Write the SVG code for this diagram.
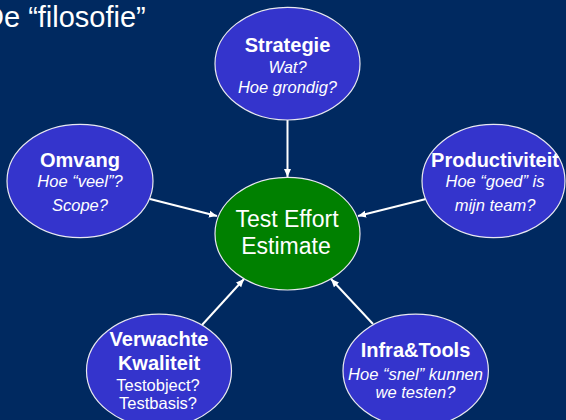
<svg xmlns="http://www.w3.org/2000/svg" width="566" height="420" viewBox="0 0 566 420">
<defs>
<style>
.bg{fill:#002960}
.node{fill:#3434CC;stroke:#E8E8F0;stroke-width:1.2}
.core{fill:#008000;stroke:#E8E8F0;stroke-width:1.2}
text{font-family:"Liberation Sans",Arial,sans-serif;fill:#FFFFFF;text-anchor:middle}
.b{font-weight:bold;font-size:20px}
.i{font-style:italic;font-size:16.5px}
.r{font-size:16.5px}
.c{font-size:23px}
.conn line{stroke:#FFFFFF;stroke-width:2;marker-end:url(#arr)}
</style>
<marker id="arr" markerUnits="userSpaceOnUse" markerWidth="9" markerHeight="8" refX="8" refY="4" orient="auto">
<path d="M0,0.5 L8,4 L0,7.5 z" fill="#FFFFFF"/>
</marker>
</defs>
<rect class="bg" x="0" y="0" width="566" height="420"/>
<text x="-17" y="27" style="font-size:29px;text-anchor:start">De “filosofie”</text>

<g id="connectors" class="conn">
<line x1="287.5" y1="120" x2="287.5" y2="177"/>
<line x1="150" y1="199" x2="217" y2="216"/>
<line x1="426" y1="199" x2="358" y2="216"/>
<line x1="202" y1="325" x2="244" y2="279"/>
<line x1="373" y1="324" x2="331" y2="279"/>
</g>

<g id="strategie">
<ellipse class="node" cx="287.5" cy="63.7" rx="72.5" ry="56.3"/>
<text class="b" x="287.5" y="52.3">Strategie</text>
<text class="i" x="287.5" y="72.7">Wat?</text>
<text class="i" x="287.5" y="92.7">Hoe grondig?</text>
</g>

<g id="omvang">
<ellipse class="node" cx="80" cy="181" rx="73" ry="56.7"/>
<text class="b" x="80" y="166.7">Omvang</text>
<text class="i" x="80" y="187.3">Hoe “veel”?</text>
<text class="i" x="80" y="211">Scope?</text>
</g>

<g id="productiviteit">
<ellipse class="node" cx="493.5" cy="181" rx="71.5" ry="56.7"/>
<text class="b" x="495" y="166.7">Productiviteit</text>
<text class="i" x="495" y="187.3">Hoe “goed” is</text>
<text class="i" x="495" y="211">mijn team?</text>
</g>

<g id="estimate">
<ellipse class="core" cx="287.5" cy="233.7" rx="72.5" ry="56.3"/>
<text class="c" x="287" y="227.3">Test Effort</text>
<text class="c" x="286" y="254">Estimate</text>
</g>

<g id="kwaliteit">
<ellipse class="node" cx="159" cy="370.7" rx="72.5" ry="56.5"/>
<text class="b" x="159" y="346">Verwachte</text>
<text class="b" x="159" y="370">Kwaliteit</text>
<text class="r" x="158" y="390.7">Testobject?</text>
<text class="r" x="158" y="409">Testbasis?</text>
</g>

<g id="infra">
<ellipse class="node" cx="415.7" cy="370.7" rx="72.7" ry="56.5"/>
<text class="b" x="415.5" y="357.3">Infra&amp;Tools</text>
<text class="i" x="415.5" y="380">Hoe “snel” kunnen</text>
<text class="i" x="415.5" y="398.3">we testen?</text>
</g>
</svg>
